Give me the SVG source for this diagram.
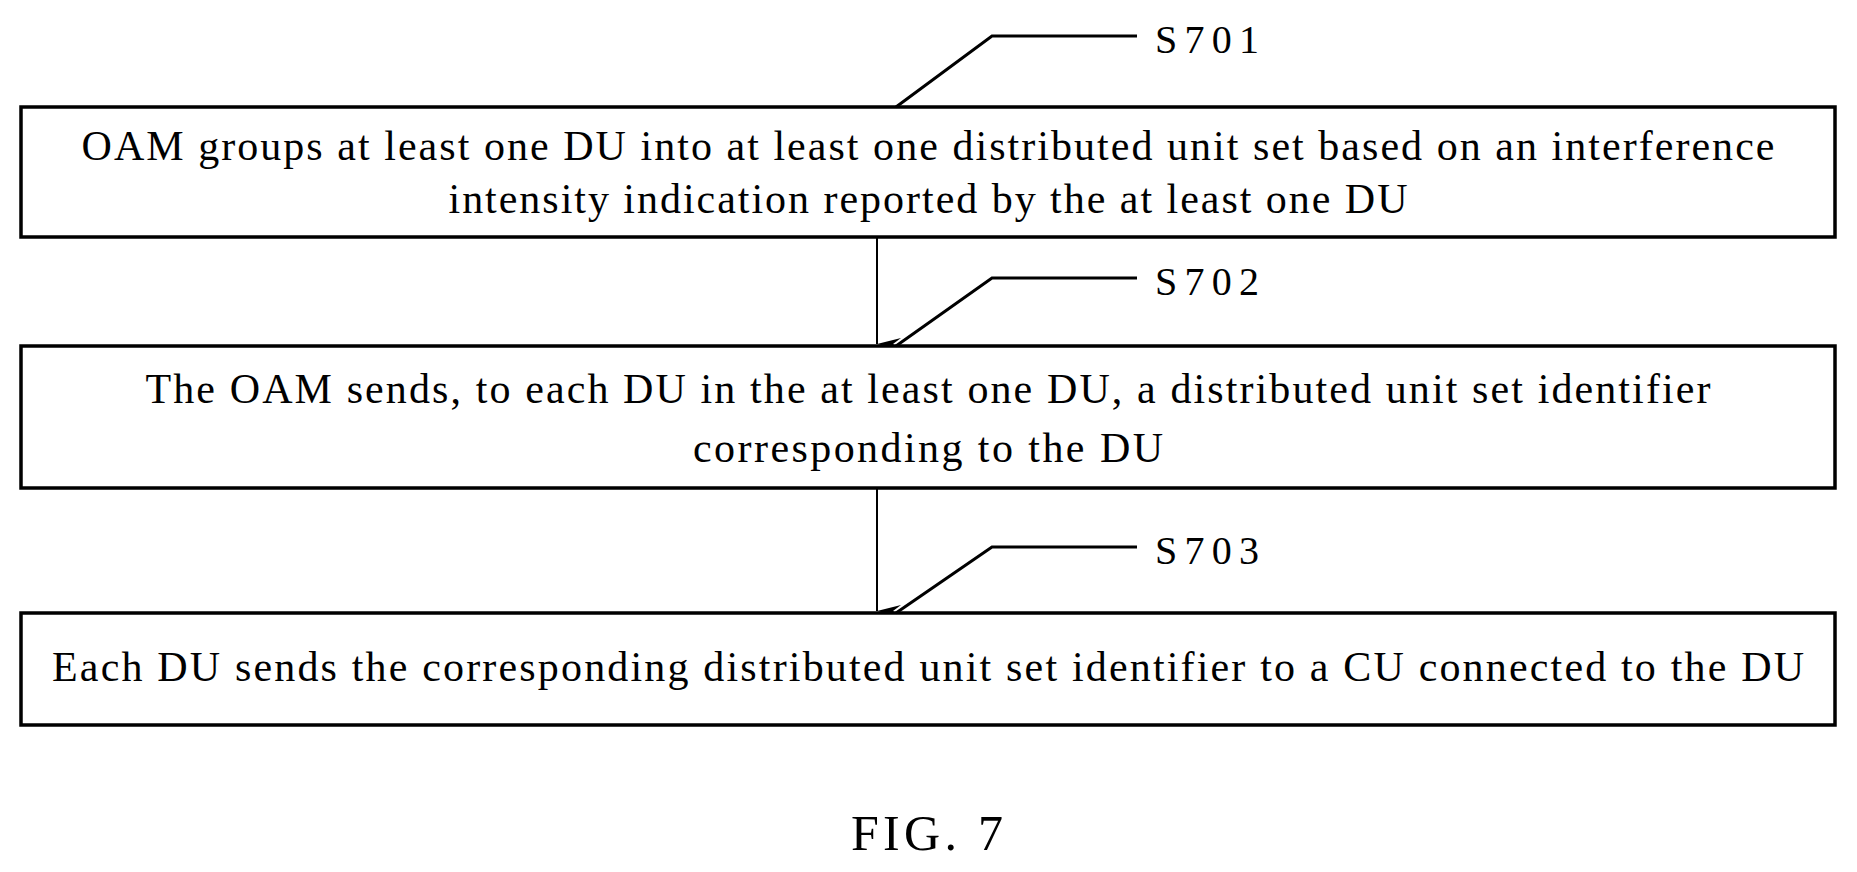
<svg xmlns="http://www.w3.org/2000/svg" width="1857" height="872" viewBox="0 0 1857 872">
<defs>
<style>
.box{fill:#fff;stroke:#000;stroke-width:3.5}
.t{font-family:"Liberation Serif",serif;font-size:42px;text-anchor:middle;fill:#000}
.lbl{font-family:"Liberation Serif",serif;font-size:40px;fill:#000}
.lead{fill:none;stroke:#000;stroke-width:3}
.arr{stroke:#000;stroke-width:2;fill:none}
</style>
<marker id="ah" markerWidth="12" markerHeight="24" refX="6" refY="24" orient="auto" markerUnits="userSpaceOnUse" viewBox="0 0 12 24">
<path d="M0,0 L6,24 L12,0 L6,8 Z" fill="#000"/>
</marker>
</defs>
<rect width="1857" height="872" fill="#fff"/>
<g id="connectors">
<line class="arr" x1="877" y1="237" x2="877" y2="344" marker-end="url(#ah)"/>
<line class="arr" x1="877" y1="488" x2="877" y2="611" marker-end="url(#ah)"/>
</g>
<g id="S701">
<rect class="box" x="21" y="107" width="1814" height="130"/>
<text class="t" x="928" y="160" textLength="1693" lengthAdjust="spacing">OAM groups at least one DU into at least one distributed unit set based on an interference</text>
<text class="t" x="928" y="213" textLength="959" lengthAdjust="spacing">intensity indication reported by the at least one DU</text>
<polyline class="lead" points="896,107 992,36 1137,36"/>
<text class="lbl" x="1155" y="53" textLength="104" lengthAdjust="spacing">S701</text>
</g>
<g id="S702">
<rect class="box" x="21" y="346" width="1814" height="142"/>
<text class="t" x="928" y="403" textLength="1565" lengthAdjust="spacing">The OAM sends, to each DU in the at least one DU, a distributed unit set identifier</text>
<text class="t" x="928" y="462" textLength="470" lengthAdjust="spacing">corresponding to the DU</text>
<polyline class="lead" points="896,346 992,278 1137,278"/>
<text class="lbl" x="1155" y="295" textLength="104" lengthAdjust="spacing">S702</text>
</g>
<g id="S703">
<rect class="box" x="21" y="613" width="1814" height="112"/>
<text class="t" x="928" y="681" textLength="1752" lengthAdjust="spacing">Each DU sends the corresponding distributed unit set identifier to a CU connected to the DU</text>
<polyline class="lead" points="896,613 992,547 1137,547"/>
<text class="lbl" x="1155" y="564" textLength="104" lengthAdjust="spacing">S703</text>
</g>
<text class="t" x="927" y="850" style="font-size:50px" textLength="152" lengthAdjust="spacing">FIG. 7</text>
</svg>
